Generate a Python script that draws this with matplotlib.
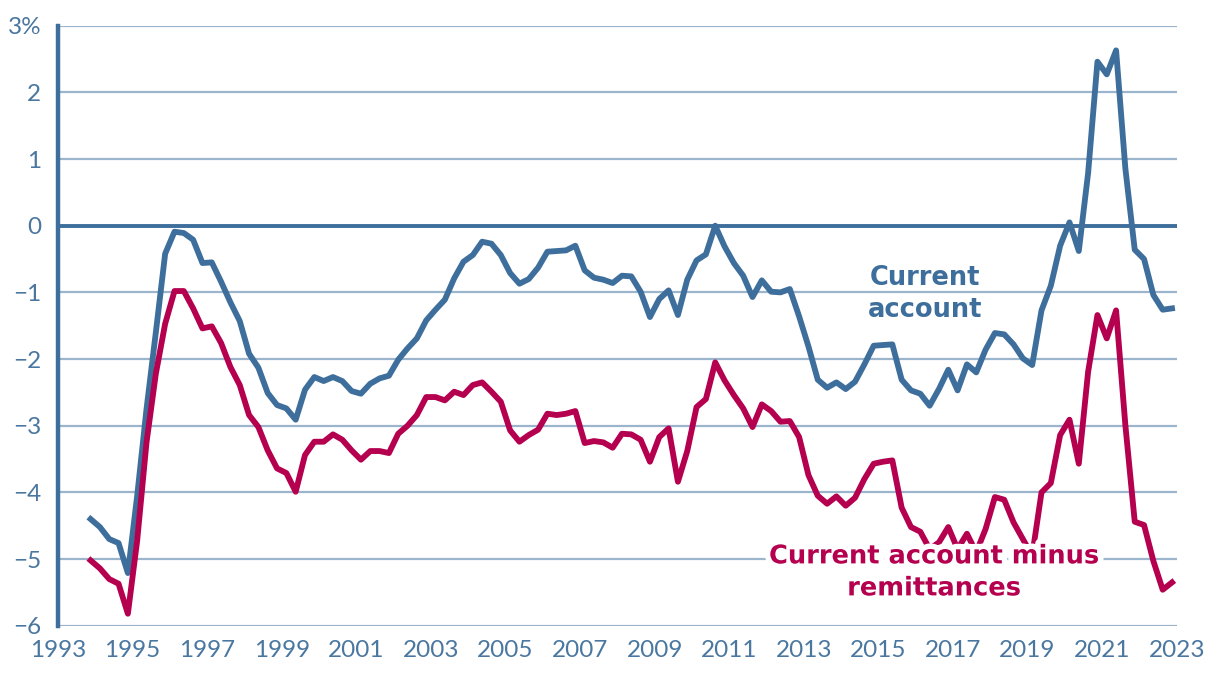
import numpy as np
import matplotlib
matplotlib.use("Agg")
import matplotlib.pyplot as plt
import matplotlib.patheffects as pe

# quarterly data, 1994Q1 - 2023Q1 (percent of GDP)
start_year = 1994
current_account = [
    -4.40, -4.52, -4.70, -4.76, -5.21, -4.05, -2.75, -1.60, -0.42, -0.09,
    -0.11, -0.21, -0.56, -0.55, -0.84, -1.15, -1.43, -1.92, -2.13, -2.51,
    -2.69, -2.74, -2.91, -2.46, -2.27, -2.33, -2.27, -2.33, -2.48, -2.52,
    -2.37, -2.29, -2.25, -2.01, -1.84, -1.69, -1.42, -1.26, -1.11, -0.79,
    -0.54, -0.44, -0.24, -0.27, -0.44, -0.71, -0.87, -0.80, -0.63, -0.39,
    -0.38, -0.37, -0.30, -0.67, -0.78, -0.81, -0.86, -0.75, -0.76, -0.99,
    -1.37, -1.10, -0.97, -1.34, -0.81, -0.52, -0.43, 0.00, -0.31, -0.56,
    -0.75, -1.07, -0.82, -0.99, -1.00, -0.95, -1.36, -1.81, -2.31, -2.43,
    -2.35, -2.45, -2.34, -2.08, -1.80, -1.79, -1.78, -2.31, -2.47, -2.52,
    -2.70, -2.45, -2.16, -2.47, -2.08, -2.20, -1.86, -1.61, -1.63, -1.78,
    -1.99, -2.09, -1.27, -0.90, -0.30, 0.05, -0.38, 0.79, 2.46, 2.27,
    2.63, 0.85, -0.36, -0.50, -1.04, -1.26, -1.24,
]
ca_minus_remit = [
    -5.02, -5.14, -5.30, -5.37, -5.82, -4.72, -3.25, -2.22, -1.47, -0.98,
    -0.98, -1.24, -1.54, -1.51, -1.76, -2.12, -2.39, -2.84, -3.02, -3.37,
    -3.64, -3.71, -3.99, -3.44, -3.24, -3.24, -3.13, -3.21, -3.37, -3.51,
    -3.38, -3.38, -3.41, -3.12, -3.00, -2.84, -2.57, -2.57, -2.62, -2.49,
    -2.54, -2.39, -2.35, -2.49, -2.64, -3.07, -3.24, -3.14, -3.06, -2.82,
    -2.84, -2.82, -2.78, -3.26, -3.23, -3.25, -3.33, -3.12, -3.13, -3.21,
    -3.54, -3.17, -3.04, -3.84, -3.38, -2.72, -2.60, -2.05, -2.32, -2.54,
    -2.74, -3.02, -2.68, -2.78, -2.94, -2.93, -3.17, -3.74, -4.05, -4.17,
    -4.06, -4.20, -4.08, -3.80, -3.57, -3.54, -3.52, -4.23, -4.52, -4.59,
    -4.85, -4.75, -4.52, -4.85, -4.62, -4.90, -4.55, -4.07, -4.11, -4.45,
    -4.70, -4.95, -4.00, -3.86, -3.14, -2.91, -3.57, -2.19, -1.34, -1.69,
    -1.27, -3.00, -4.44, -4.49, -5.03, -5.46, -5.35,
]
y_ticks = [3, 2, 1, 0, -1, -2, -3, -4, -5, -6]
y_labels = ['3%', '2', '1', '0', '\u22121', '\u22122', '\u22123', '\u22124', '\u22125', '\u22126']
x_ticks = list(range(1993, 2024, 2))

# colours
blue = '#3e6f9c'
red = '#b4004e'
grid_col = '#9bb5cc'
text_col = '#4a77a0'

# quarter positions
t = start_year + np.arange(len(current_account)) / 4 - 0.125

fig = plt.figure(figsize=(12.2, 6.78), dpi=100)
ax = fig.add_axes([0.0475, 0.0771, 0.917, 0.885])

for yv in y_ticks:
    if yv != 0:
        ax.axhline(yv, color=grid_col, lw=1.6, zorder=1)
ax.axhline(0, color=blue, lw=2.8, zorder=2)

ax.plot(t, current_account, color=blue, lw=4.2, zorder=3)
ax.plot(t, ca_minus_remit, color=red, lw=4.2, zorder=3)

ax.set_xlim(1993, 2023)
ax.set_ylim(-6, 3)

for s in ['top', 'right', 'bottom']:
    ax.spines[s].set_visible(False)
ax.spines['left'].set_color(blue)
ax.spines['left'].set_linewidth(3.2)
ax.spines['left'].set_zorder(4)

ax.set_yticks(y_ticks)
ax.set_yticklabels(y_labels)
ax.set_xticks(x_ticks)
ax.set_xticklabels([str(x) for x in x_ticks])
ax.tick_params(length=0, colors=text_col, labelsize=17.5)
ax.tick_params(axis='y', pad=12)
ax.tick_params(axis='x', pad=10)
for lab in ax.get_xticklabels() + ax.get_yticklabels():
    lab.set_family(['Lato', 'DejaVu Sans'])
    lab.set_fontweight('normal')

# series labels
ax.text(2016.25, -1.02, 'Current\naccount', color=blue, fontsize=18.5,
        fontweight='bold', family=['DejaVu Sans'], ha='center', va='center',
        linespacing=1.3, zorder=5)
ax.text(2016.5, -5.2, 'Current account minus\nremittances', color=red, fontsize=18.5,
        fontweight='bold', family=['DejaVu Sans'], ha='center', va='center',
        linespacing=1.3, zorder=5,
        path_effects=[pe.withStroke(linewidth=8, foreground='white')])

fig.savefig('out.png', dpi=100)
